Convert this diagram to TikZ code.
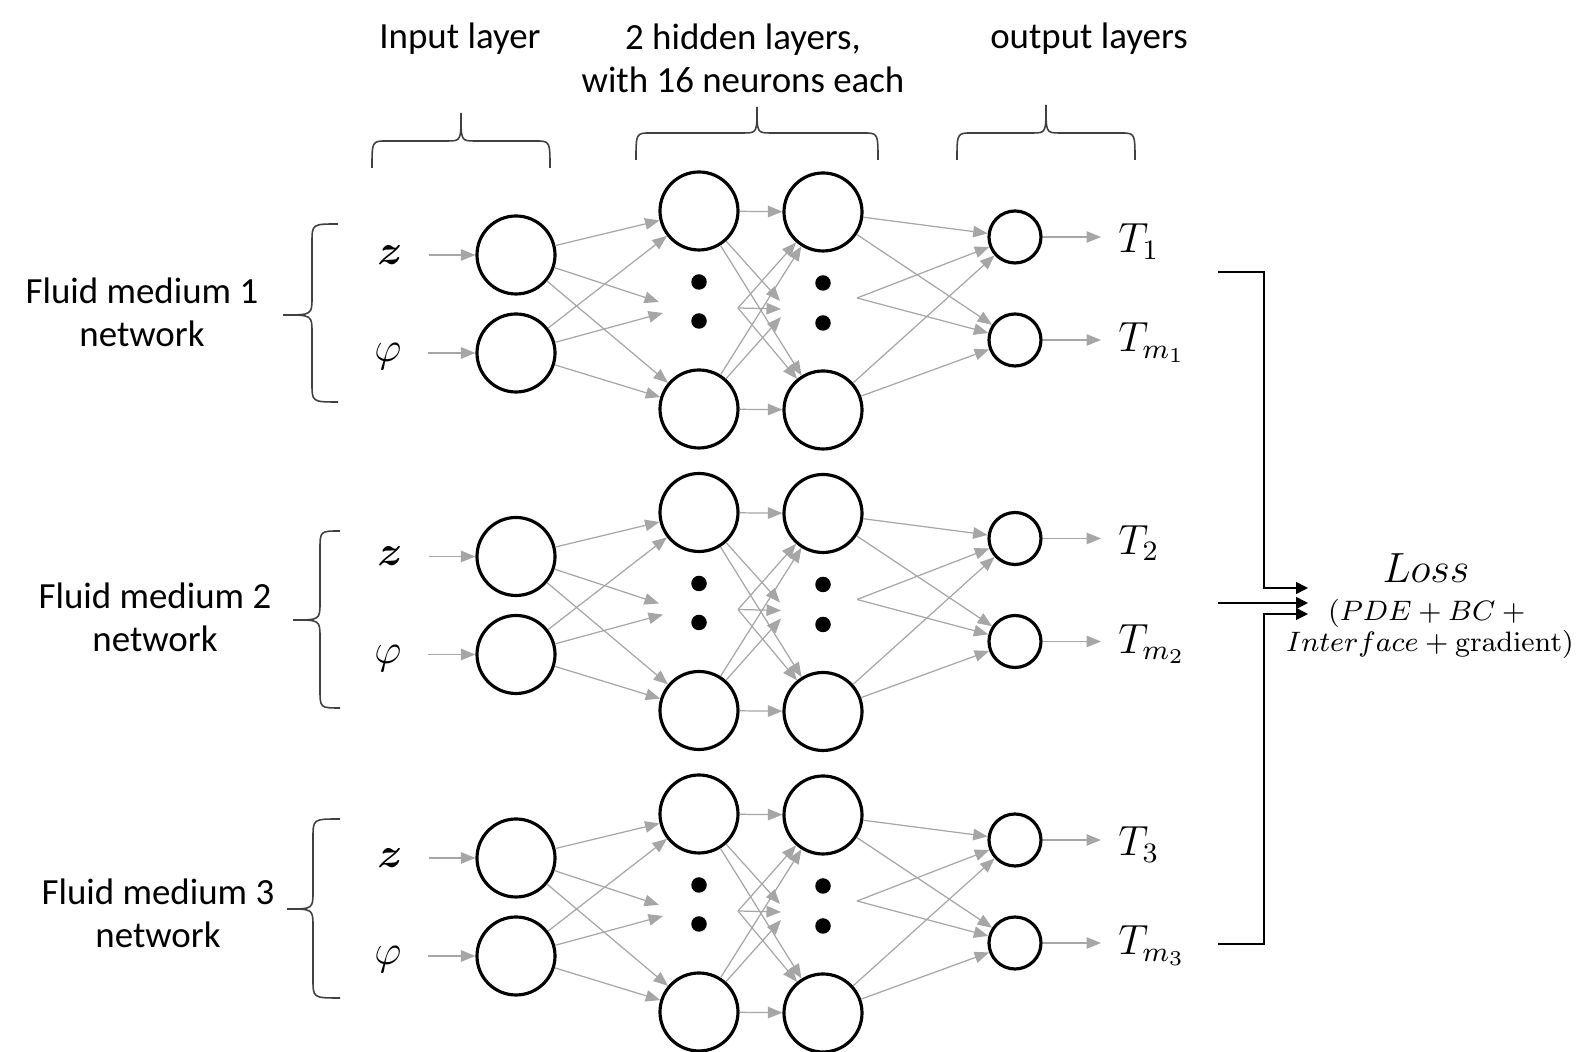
\documentclass[tikz,border=0pt]{standalone}
\usepackage[no-math]{fontspec}
\usepackage{amsmath}
\setmainfont{Carlito}
\usetikzlibrary{arrows.meta}

\tikzset{
  neuron/.style={circle,draw,line width=0.9pt,minimum size=7.8mm,inner sep=0pt},
  outneuron/.style={circle,draw,line width=0.9pt,minimum size=5.2mm,inner sep=0pt},
  dotnode/.style={circle,fill,minimum size=1.55mm,inner sep=0pt},
  wire/.style={draw=black!35,line width=0.35pt,-{Triangle[length=1.45mm,width=1.15mm]}},
  losswire/.style={line width=0.4pt,-{Triangle[length=1.2mm,width=1.2mm]}},
  bracestroke/.style={draw=black!75,line width=0.45pt},
  inlabel/.style={font=\fontsize{12}{14}\selectfont},
  outlabel/.style={anchor=base west,font=\fontsize{12}{14}\selectfont},
}

\begin{document}
\begin{tikzpicture}[font=\fontsize{10.5}{12.5}\selectfont]
\useasboundingbox (0,0) rectangle (15.9,-10.52);

% layer titles
\node[anchor=base] (tin) at (4.60,-0.49) {Input layer};
\node[anchor=north,align=center] (thid) at (7.43,-0.11) {2 hidden layers,\\with 16 neurons each};
\node[anchor=base] (tout) at (10.89,-0.49) {output layers};

% braces over the layers
\draw[bracestroke] (3.72,-1.68) .. controls (3.72,-1.41) .. (3.87,-1.41) -- (4.47,-1.41) .. controls (4.61,-1.41) .. (4.61,-1.13) .. controls (4.61,-1.41) .. (4.75,-1.41) -- (5.35,-1.41) .. controls (5.50,-1.41) .. (5.50,-1.68);
\draw[bracestroke] (6.36,-1.60) .. controls (6.36,-1.33) .. (6.51,-1.33) -- (7.43,-1.33) .. controls (7.57,-1.33) .. (7.57,-1.07) .. controls (7.57,-1.33) .. (7.71,-1.33) -- (8.63,-1.33) .. controls (8.78,-1.33) .. (8.78,-1.60);
\draw[bracestroke] (9.57,-1.60) .. controls (9.57,-1.33) .. (9.72,-1.33) -- (10.32,-1.33) .. controls (10.46,-1.33) .. (10.46,-1.05) .. controls (10.46,-1.33) .. (10.60,-1.33) -- (11.20,-1.33) .. controls (11.35,-1.33) .. (11.35,-1.60);

% network names and their braces
\node[anchor=north,align=center] (net1) at (1.42,-2.65) {Fluid medium 1\\network};
\node[anchor=north,align=center] (net2) at (1.55,-5.70) {Fluid medium 2\\network};
\node[anchor=north,align=center] (net3) at (1.58,-8.66) {Fluid medium 3\\network};
\draw[bracestroke] (3.38,-2.24) .. controls (3.12,-2.24) .. (3.12,-2.43) -- (3.12,-2.97) .. controls (3.12,-3.15) .. (2.83,-3.15) .. controls (3.12,-3.15) .. (3.12,-3.33) -- (3.12,-3.83) .. controls (3.12,-4.02) .. (3.38,-4.02);
\draw[bracestroke] (3.40,-5.31) .. controls (3.20,-5.31) .. (3.20,-5.50) -- (3.20,-6.02) .. controls (3.20,-6.20) .. (2.93,-6.20) .. controls (3.20,-6.20) .. (3.20,-6.38) -- (3.20,-6.89) .. controls (3.20,-7.08) .. (3.40,-7.08);
\draw[bracestroke] (3.40,-8.19) .. controls (3.13,-8.19) .. (3.13,-8.38) -- (3.13,-8.91) .. controls (3.13,-9.09) .. (2.87,-9.09) .. controls (3.13,-9.09) .. (3.13,-9.27) -- (3.13,-9.79) .. controls (3.13,-9.98) .. (3.40,-9.98);

% the three networks
\foreach \b/\dy in {1/0,2/3.015,3/6.03}{
  \begin{scope}[yshift=-\dy cm]
    \node[inlabel] (z\b) at (3.90,-2.55) {$\boldsymbol{z}$};
    \node[inlabel] (phi\b) at (3.88,-3.57) {$\varphi$};
    \node[neuron] (inA\b) at (5.16,-2.55) {};
    \node[neuron] (inB\b) at (5.16,-3.53) {};
    \node[neuron] (hidA\b) at (6.99,-2.11) {};
    \node[neuron] (hidB\b) at (6.99,-4.09) {};
    \node[neuron] (hidC\b) at (8.23,-2.12) {};
    \node[neuron] (hidD\b) at (8.23,-4.10) {};
    \node[dotnode] (dA\b) at (6.99,-2.82) {};
    \node[dotnode] (dB\b) at (6.99,-3.21) {};
    \node[dotnode] (dC\b) at (8.23,-2.83) {};
    \node[dotnode] (dD\b) at (8.23,-3.23) {};
    \node[outneuron] (outA\b) at (10.15,-2.37) {};
    \node[outneuron] (outB\b) at (10.15,-3.40) {};
    \node[outlabel] (T\b) at (11.06,-2.53) {$T_{\b}$};
    \node[outlabel] (Tm\b) at (11.06,-3.52) {$T_{m_{\b}}$};
    \coordinate (mAu\b) at (6.59,-3.02);
    \coordinate (mAl\b) at (6.63,-3.13);
    \coordinate (mAs\b) at (7.38,-3.08);
    \coordinate (mBu\b) at (7.80,-3.01);
    \coordinate (mBm\b) at (7.81,-3.09);
    \coordinate (mBl\b) at (7.81,-3.17);
    \coordinate (mBs\b) at (8.57,-2.98);
    \draw[wire,shorten <=1.4mm] (inA\b -| z\b.east) -- (inA\b);
    \draw[wire,shorten <=1.4mm] (inB\b -| phi\b.east) -- (inB\b);
    \draw[wire,shorten >=0.5mm] (outA\b) -- (outA\b -| T\b.west);
    \draw[wire,shorten >=0.5mm] (outB\b) -- (outB\b -| Tm\b.west);
    \foreach \s/\t in {inA/hidA,inA/mAu,inA/hidB,inB/hidA,inB/mAl,inB/hidB,
      hidA/hidC,hidA/mBu,hidA/hidD,mAs/hidC,mAs/mBm,mAs/hidD,hidB/hidC,hidB/mBl,hidB/hidD,
      hidC/outA,hidC/outB,mBs/outA,mBs/outB,hidD/outA,hidD/outB}
      \draw[wire] (\s\b) -- (\t\b);
  \end{scope}
}

% loss
\coordinate (lA) at (12.18,-2.72);
\coordinate (lAk) at (12.64,-5.88);
\coordinate (lAt) at (13.08,-5.88);
\coordinate (lB) at (12.18,-6.03);
\coordinate (lBt) at (13.08,-6.03);
\coordinate (lC) at (12.18,-9.44);
\coordinate (lCk) at (12.64,-6.14);
\coordinate (lCt) at (13.08,-6.14);
\draw[losswire] (lA) -| (lAk) -- (lAt);
\draw[losswire] (lB) -- (lBt);
\draw[losswire] (lC) -| (lCk) -- (lCt);
\node[anchor=base,font=\fontsize{12}{14}\selectfont] (loss) at (14.26,-5.83) {$Loss$};
\node[anchor=north,align=center,font=\fontsize{8.5}{8.8}\selectfont] (lossterms) at (14.30,-5.87) {$(PDE+BC+{}$\\$Interface+\mathrm{gradient})$};

\end{tikzpicture}
\end{document}
